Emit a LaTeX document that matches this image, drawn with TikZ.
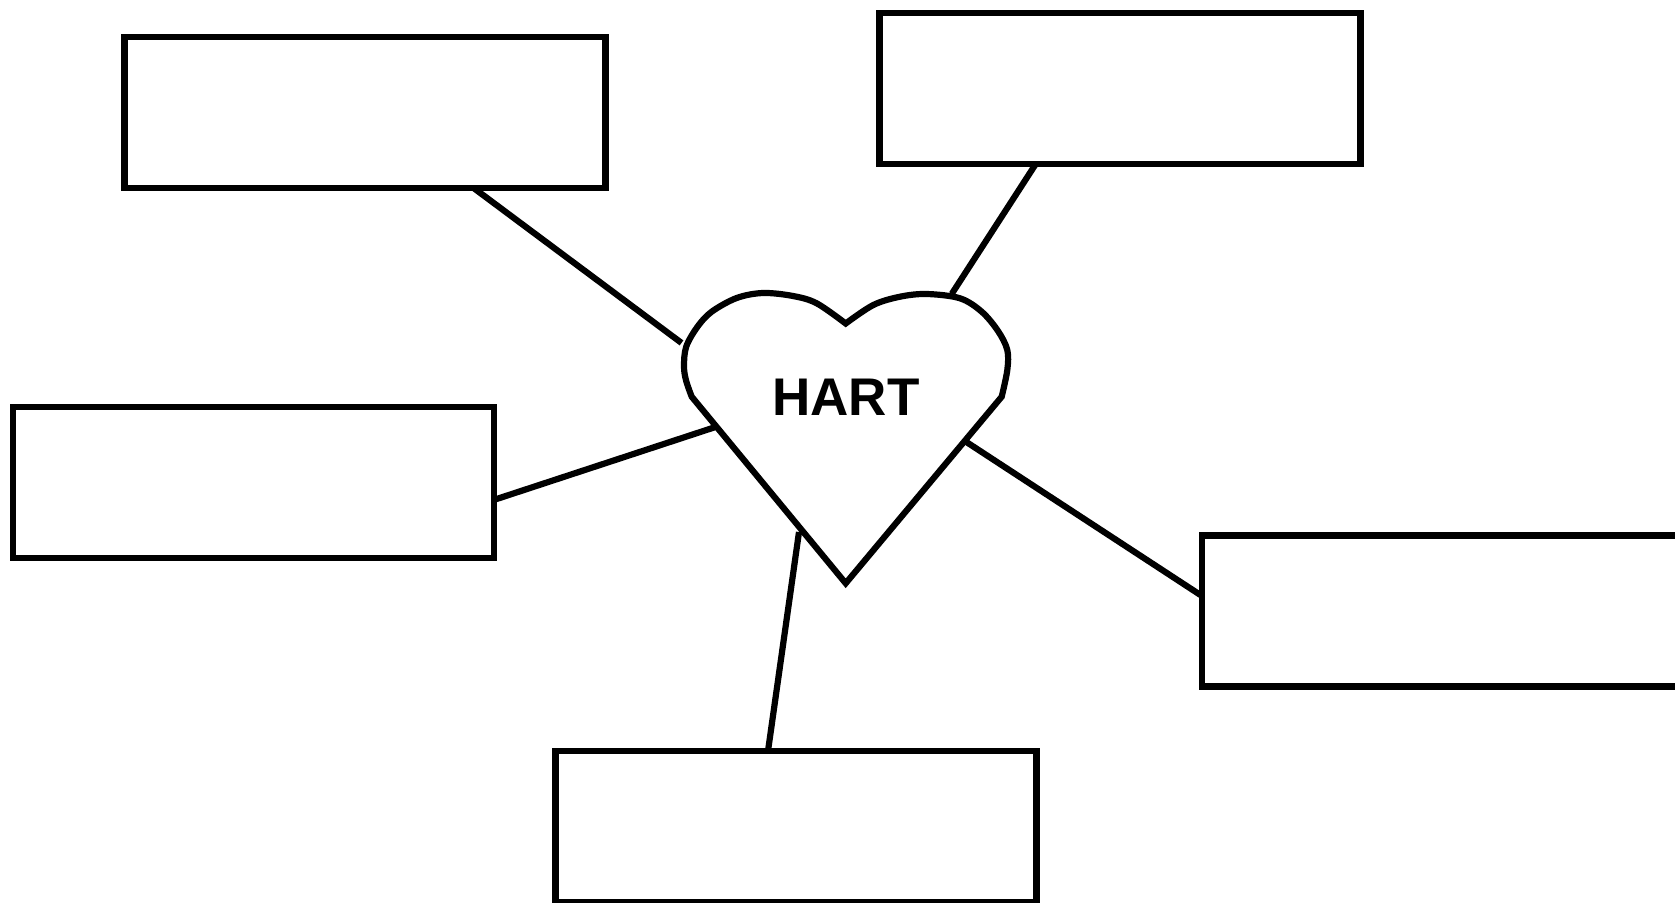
\documentclass[tikz,border=0pt]{standalone}
\usepackage{fontspec}
\setmainfont{Liberation Sans}
\begin{document}
\begin{tikzpicture}[x=1pt,y=-1pt,
  box/.style={draw=black,line width=6.2pt,minimum width=481pt,minimum height=151pt,inner sep=0pt,outer sep=0pt},
  link/.style={draw=black,line width=6.2pt},
  heartline/.style={draw=black,line width=6.2pt,line join=miter}]
\useasboundingbox[fill=white] (0,0) rectangle (1675,902);
\node[box] (b1) at (365,112.2) {};
\node[box] (b2) at (1120,88.1) {};
\node[box] (b3) at (253.7,482.8) {};
\node[box] (b4) at (1442.5,611) {};
\node[box] (b5) at (796,826.5) {};
% connector end points at the heart
\coordinate (h1) at (681.5,342.9);
\coordinate (h2) at (951.8,293.8);
\coordinate (h3) at (714.6,427.3);
\coordinate (h4) at (966.7,442.2);
\coordinate (h5) at (799,532);
\path (b1.south west) ++(348.7,0) coordinate (e1)
      (b2.south west) ++(156.5,0) coordinate (e2)
      (b3.south east) ++(0,-58.5) coordinate (e3)
      (b4.south west) ++(0,-90.5) coordinate (e4)
      (b5.north west) ++(212.5,0) coordinate (e5);
\draw[link] (e1) -- (h1);
\draw[link] (e2) -- (h2);
\draw[link] (e3) -- (h3);
\draw[link] (e4) -- (h4);
\draw[link] (e5) -- (h5);
% heart
\draw[heartline] plot[smooth,tension=0.55] coordinates {(691.7,396.7) (686.2,381) (684,366.7) (686.2,346.7) (697.5,326.7) (711.7,311.7) (736.7,298) (763,293) (793,296) (816.7,303.3) (845.7,323.5)}
  -- plot[smooth,tension=0.55] coordinates {(845.7,323.5) (873.3,305) (900,296.7) (926.7,294) (960,298.3) (981.7,311.7) (998,331) (1007.3,350) (1007.3,370) (1001.7,396.7)}
  -- (845.7,583.3) -- cycle;
\node[font=\bfseries\fontsize{53}{53}\selectfont] (hart) at (846,397) {HART};
\end{tikzpicture}
\end{document}
